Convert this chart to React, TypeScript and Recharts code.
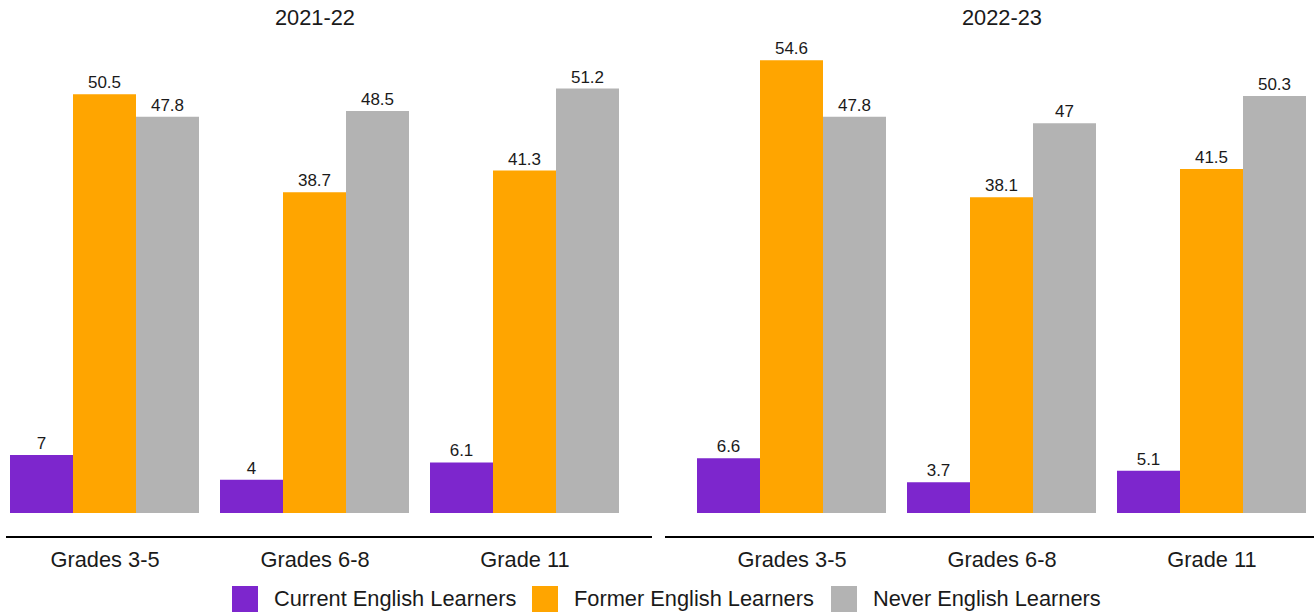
import React from "react";
import { BarChart, Bar, XAxis, YAxis, LabelList } from "recharts";

const categories = ["Grades 3-5", "Grades 6-8", "Grade 11"];
const years = ["2021-22", "2022-23"];
const seriesNames = ["Current English Learners", "Former English Learners", "Never English Learners"];
const seriesColors = ["#7D26CD", "#FFA500", "#B3B3B3"];

const current2122 = [7, 4, 6.1];
const former2122 = [50.5, 38.7, 41.3];
const never2122 = [47.8, 48.5, 51.2];

const current2223 = [6.6, 3.7, 5.1];
const former2223 = [54.6, 38.1, 41.5];
const never2223 = [47.8, 47, 50.3];

const FONT = "'Liberation Sans', Arial, sans-serif";
const BIG = 21.8;
const Y_MIN = -2.895;
const Y_MAX = 57.056;

const buildRows = (cur: number[], frm: number[], nev: number[]) =>
  categories.map((c, i) => ({ name: c, current: cur[i], former: frm[i], never: nev[i] }));

const panels = [
  {
    title: years[0],
    rows: buildRows(current2122, former2122, never2122),
    left: 0,
    width: 660,
    margin: { top: 40, left: 6, right: 8, bottom: 39 },
    padding: { left: -6, right: 22 },
    titleCenter: 315,
  },
  {
    title: years[1],
    rows: buildRows(current2223, former2223, never2223),
    left: 660,
    width: 655,
    margin: { top: 40, left: 5, right: 1, bottom: 39 },
    padding: { left: 22, right: -3 },
    titleCenter: 1002,
  },
];

const keys = ["current", "former", "never"];
const legendX = [232, 532, 831];

const Panel = ({ p }: { p: (typeof panels)[number] }) => (
  <div style={{ position: "absolute", left: p.left, top: 0 }}>
    <BarChart
      width={p.width}
      height={616}
      data={p.rows}
      margin={p.margin}
      barCategoryGap={10}
      barGap={0}
    >
      <XAxis
        dataKey="name"
        height={40}
        padding={p.padding}
        axisLine={{ stroke: "#000", strokeWidth: 2 }}
        tickLine={false}
        tickSize={0}
        tickMargin={14.5}
        tick={{ fontSize: BIG, fill: "#1a1a1a", fontFamily: FONT }}
        interval={0}
      />
      <YAxis hide domain={[Y_MIN, Y_MAX]} allowDataOverflow type="number" />
      {keys.map((k, i) => (
        <Bar key={k} dataKey={k} fill={seriesColors[i]} isAnimationActive={false}>
          <LabelList
            dataKey={k}
            position="top"
            offset={6}
            style={{ fontSize: 17, fill: "#1a1a1a", fontFamily: FONT }}
          />
        </Bar>
      ))}
    </BarChart>
  </div>
);

export default function App() {
  return (
    <div
      style={{
        position: "absolute",
        left: 0,
        top: 0,
        width: 1315,
        height: 616,
        background: "#fff",
        fontFamily: FONT,
        color: "#1a1a1a",
        overflow: "hidden",
      }}
    >
      {panels.map((p) => (
        <React.Fragment key={p.title}>
          <Panel p={p} />
          <div
            style={{
              position: "absolute",
              left: p.titleCenter - 100,
              width: 200,
              top: 7,
              textAlign: "center",
              fontSize: BIG,
              lineHeight: 1,
            }}
          >
            {p.title}
          </div>
        </React.Fragment>
      ))}
      {seriesNames.map((n, i) => (
        <div
          key={n}
          style={{
            position: "absolute",
            left: legendX[i],
            top: 586,
            height: 26,
            display: "flex",
            alignItems: "center",
            fontSize: BIG,
            whiteSpace: "nowrap",
          }}
        >
          <span style={{ width: 26, height: 26, background: seriesColors[i], display: "inline-block" }} />
          <span style={{ marginLeft: 16 }}>{n}</span>
        </div>
      ))}
    </div>
  );
}
